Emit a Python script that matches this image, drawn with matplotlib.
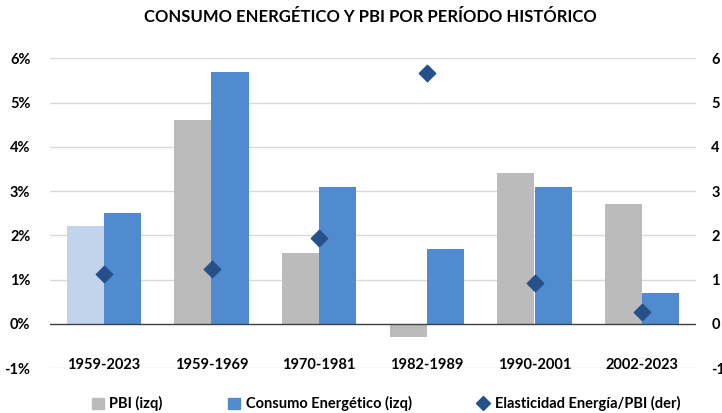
import matplotlib.pyplot as plt
import numpy as np
from matplotlib.lines import Line2D
from matplotlib.patches import Patch

# data
periodos = ['1959-2023', '1959-1969', '1970-1981', '1982-1989', '1990-2001', '2002-2023']
pbi = [2.2, 4.6, 1.6, -0.3, 3.4, 2.7]
consumo = [2.5, 5.7, 3.1, 1.7, 3.1, 0.7]
elasticidad = [1.13, 1.24, 1.93, 5.67, 0.92, 0.26]

c_gris = '#BBBBBB'
c_gris_claro = '#C2D4EC'
c_azul = '#4F8BCE'
c_rombo = '#25508A'

plt.rcParams['font.family'] = ['Lato', 'DejaVu Sans']
plt.rcParams['font.weight'] = 'bold'
plt.rcParams['axes.unicode_minus'] = False

fig = plt.figure(figsize=(7.22, 4.13), dpi=100)
ax = fig.add_axes([50 / 722, 1 - 368 / 413, 646 / 722, (368 - 58.3) / 413])
ax2 = ax.twinx()

x = np.arange(len(periodos))
w = 0.345
colores_pbi = [c_gris_claro] + [c_gris] * (len(pbi) - 1)
ax.bar(x - w / 2, pbi, w, color=colores_pbi, zorder=2)
ax.bar(x + w / 2, consumo, w, color=c_azul, zorder=2)

ax2.scatter(x, elasticidad, marker='D', s=70, color=c_rombo, zorder=3)

ax.set_xlim(-0.5, 5.5)
for a in (ax, ax2):
    a.set_ylim(-1, 6)
    a.set_yticks(range(-1, 7))
    for s in a.spines.values():
        s.set_visible(False)
    a.tick_params(length=0, labelsize=10.5)

ax.set_yticklabels([f'{v}%' for v in range(-1, 7)])
ax.tick_params(axis='y', pad=14)
ax2.tick_params(axis='y', pad=11)
ax.set_xticks([])

for v in range(-1, 7):
    if v == 0:
        continue
    ax.axhline(v, color='#D9D9D9', lw=1, zorder=0)
ax.axhline(0, color='#404040', lw=1, zorder=3)

for xi, lab in zip(x, periodos):
    ax.text(xi, -0.93, lab, ha='center', va='center', fontsize=10.5, fontweight='bold')

fig.text(0.513, 0.958, 'CONSUMO ENERGÉTICO Y PBI POR PERÍODO HISTÓRICO',
         ha='center', va='center', fontsize=12, fontweight='bold')

handles = [Patch(color=c_gris), Patch(color=c_azul),
           Line2D([], [], marker='D', ls='none', color=c_rombo, markersize=7)]
labels = ['PBI (izq)', 'Consumo Energético (izq)', 'Elasticidad Energía/PBI (der)']
fig.legend(handles, labels, loc='center', bbox_to_anchor=(0.535, 0.022), ncol=3,
           frameon=False, fontsize=10.5, columnspacing=4.5, handlelength=0.8,
           handleheight=0.8, handletextpad=0.4)

fig.savefig('out.png', dpi=100)
